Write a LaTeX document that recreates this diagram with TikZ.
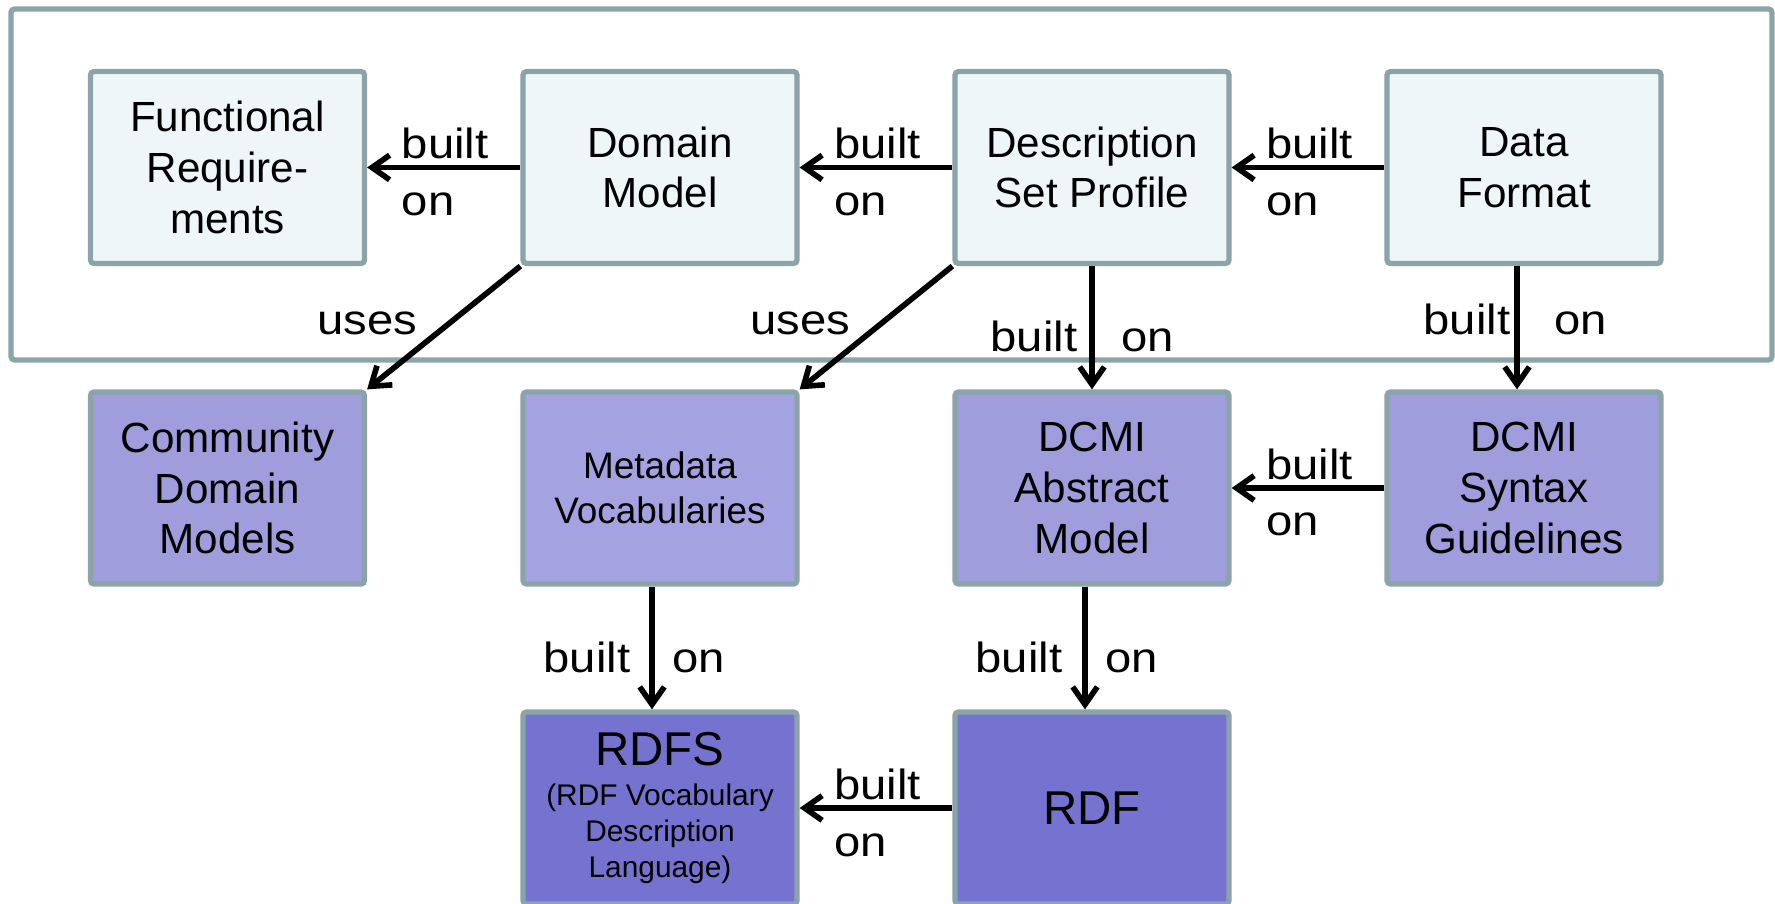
\documentclass[tikz,border=0pt]{standalone}
\usepackage{fontspec}
\setmainfont{Liberation Sans}
\newfontfamily\labelfont{Liberation Sans}[FakeStretch=1.12]
\usetikzlibrary{arrows.meta}

\definecolor{frameGray}{RGB}{139,164,167}
\definecolor{profileFill}{RGB}{239,246,248}
\definecolor{vocabFill}{RGB}{159,157,220}
\definecolor{mvFill}{RGB}{164,162,224}
\definecolor{baseFill}{RGB}{117,115,207}

\begin{document}
\begin{tikzpicture}[
  box/.style={draw=frameGray, line width=1.5pt, rounded corners=1pt, minimum width=2.74cm,
    minimum height=1.92cm, align=center, inner sep=2pt, font=\fontsize{12}{14.4}\selectfont},
  profile/.style={box, fill=profileFill},
  vocab/.style={box, fill=vocabFill},
  base/.style={box, fill=baseFill},
  dep/.style={-{Straight Barb[length=5pt,width=7pt]}, line width=1.6pt},
  lbl/.style={font=\labelfont\fontsize{12}{14}\selectfont, inner sep=0pt}
]
  % Parameters
  \def\colA{2.275} % column centres
  \def\colB{6.60}
  \def\colC{10.92}
  \def\colD{15.24}
  \def\rowA{7.355} % row centres
  \def\rowB{4.15}
  \def\rowC{0.95}

  \useasboundingbox (0,0) rectangle (17.75,9.03);

  % Application profile frame
  \draw[frameGray, line width=1.5pt, rounded corners=1pt] (0.11,5.43) rectangle (17.72,8.94);

  % Application profile components
  \node[profile] (FR) at (\colA,\rowA) {Functional\\Require-\\ments};
  \node[profile] (DM) at (\colB,\rowA) {Domain\\Model};
  \node[profile] (DSP) at (\colC,\rowA) {Description\\Set Profile};
  \node[profile] (DF) at (\colD,\rowA) {Data\\Format};

  % Vocabularies and DCMI foundations
  \node[vocab] (CDM) at (\colA,\rowB) {Community\\Domain\\Models};
  \node[vocab, fill=mvFill, font=\fontsize{10.5}{12.9}\selectfont] (MV) at (\colB,\rowB) {Metadata\\Vocabularies};
  \node[vocab] (DAM) at (\colC,\rowB) {DCMI\\Abstract\\Model};
  \node[vocab] (DSG) at (\colD,\rowB) {DCMI\\Syntax\\Guidelines};

  % RDF layer
  \node[base, font=\fontsize{8.5}{10.2}\selectfont] (RDFS) at (\colB,\rowC)
    {{\fontsize{13.5}{16}\selectfont RDFS}\\[1pt](RDF Vocabulary\\Description\\Language)};
  \node[base, font=\fontsize{13.5}{16}\selectfont] (RDF) at (\colC,\rowC) {RDF};

  % Horizontal "built on" relations
  \foreach \src/\dst in {DM/FR, DSP/DM, DF/DSP, DSG/DAM, RDF/RDFS}
  {
    \draw[dep] (\src) -- (\dst);
    \node[lbl, anchor=base west] (b\src) at ([shift={(0.34,0.09)}]\dst.east) {built};
    \node[lbl, anchor=base west] (o\src) at ([shift={(0.34,-0.48)}]\dst.east) {on};
  }

  % Vertical "built on" relations
  \draw[dep] (DSP) -- (DAM);
  \draw[dep] ([xshift=-0.07cm]DF.south) -- ([xshift=-0.07cm]DSG.north);
  \draw[dep] ([xshift=-0.08cm]MV.south) -- ([xshift=-0.08cm]RDFS.north);
  \draw[dep] ([xshift=-0.07cm]DAM.south) -- ([xshift=-0.07cm]RDF.north);
  \foreach \x/\y/\gl/\gr/\n in {10.92/5.51/0.14/0.29/a, 15.17/5.68/0.06/0.37/b,
                                 6.52/2.31/0.21/0.20/c, 10.85/2.31/0.22/0.20/d}
  {
    \node[lbl, anchor=base east] (vb\n) at (\x-\gl,\y) {built};
    \node[lbl, anchor=base west] (vo\n) at (\x+\gr,\y) {on};
  }

  % "uses" relations
  \draw[dep] (DM.south west) -- (CDM.north east);
  \draw[dep] (DSP.south west) -- (MV.north east);
  \node[lbl, anchor=base east] (usesA) at (4.18,5.68) {uses};
  \node[lbl, anchor=base east] (usesB) at (8.51,5.68) {uses};
\end{tikzpicture}
\end{document}
